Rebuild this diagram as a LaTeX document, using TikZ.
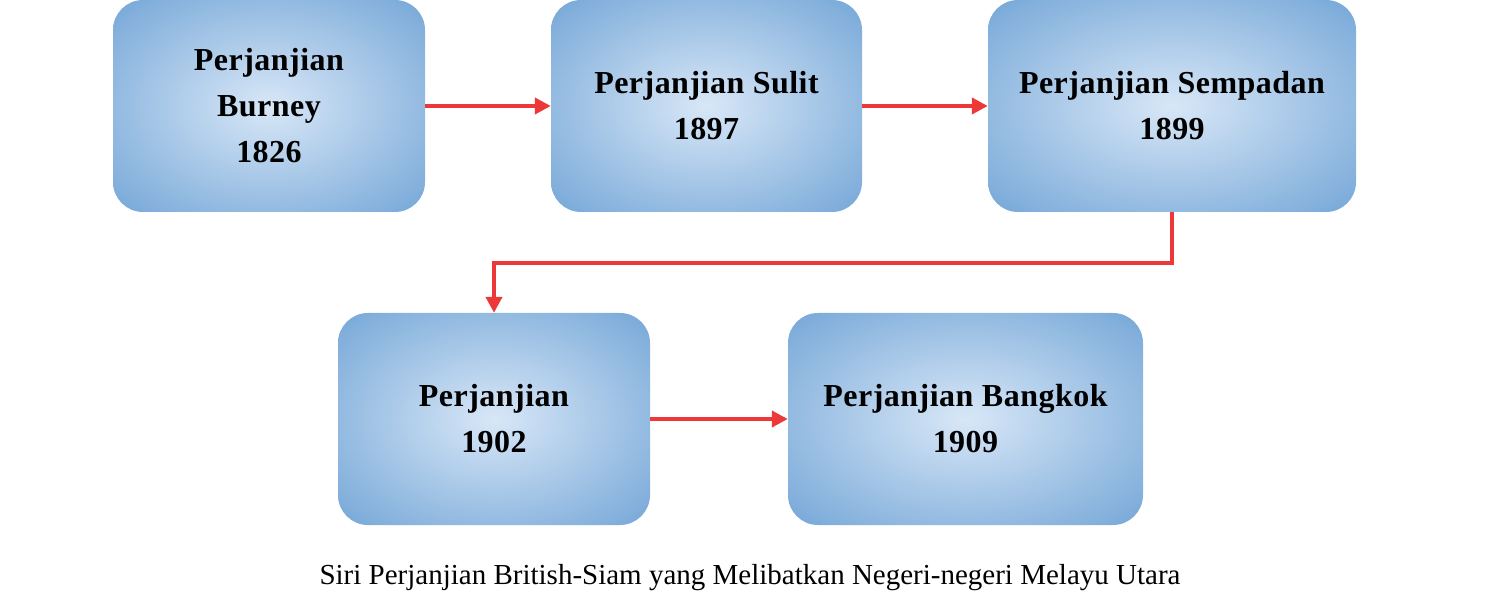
\documentclass[tikz,border=0pt]{standalone}
\usepackage{fontspec}
\setmainfont{Liberation Serif}
\newfontfamily\boxfont[LetterSpace=1.5]{Liberation Serif}
\usetikzlibrary{arrows.meta}
\definecolor{boxedge}{RGB}{116,166,215}
\definecolor{boxcentre}{RGB}{216,231,247}
\definecolor{linkred}{RGB}{236,56,56}
\pgfdeclareradialshading{treaty glow}{\pgfpoint{0bp}{0bp}}{%
    color(0bp)=(boxcentre); color(36bp)=(boxedge); color(50bp)=(boxedge)}
\begin{document}
\begin{tikzpicture}[x=1pt, y=-1pt, >={Triangle[length=16pt,width=16pt]}]

    \tikzset{%
    every treaty/.style={
        rounded corners=30pt,
        shading=treaty glow,
        minimum height=212pt,
        align=center,
        font=\boxfont\bfseries\fontsize{32}{46}\selectfont
        },
    treaty link/.style={
        draw=linkred,
        line width=4pt,
        ->
        },
    }

    \useasboundingbox (0,0) rectangle (1500,612);

    % Top row of treaty boxes
    \node [every treaty, minimum width=312pt] (treaty-1) at (269,106) {Perjanjian\\Burney\\1826};
    \node [every treaty, minimum width=311pt] (treaty-2) at (706.5,106) {Perjanjian Sulit\\1897};
    \node [every treaty, minimum width=368pt] (treaty-3) at (1172,106) {Perjanjian Sempadan\\1899};

    % Bottom row of treaty boxes
    \node [every treaty, minimum width=312pt] (treaty-4) at (494,419) {Perjanjian\\1902};
    \node [every treaty, minimum width=355pt] (treaty-5) at (965.5,419) {Perjanjian Bangkok\\1909};

    % Straight links between neighbouring boxes
    \foreach \a/\b in {1/2,2/3,4/5}
    \draw [treaty link] (treaty-\a) -- (treaty-\b);

    % Link from the top row down to the bottom row
    \coordinate (turn) at (1172,263);
    \draw [treaty link] (treaty-3.south) -- (turn) -| (treaty-4.north);

    % Caption
    \node (caption) at (750,578) {\fontsize{29}{35}\selectfont Siri Perjanjian British-Siam yang Melibatkan Negeri-negeri Melayu Utara};

\end{tikzpicture}
\end{document}
